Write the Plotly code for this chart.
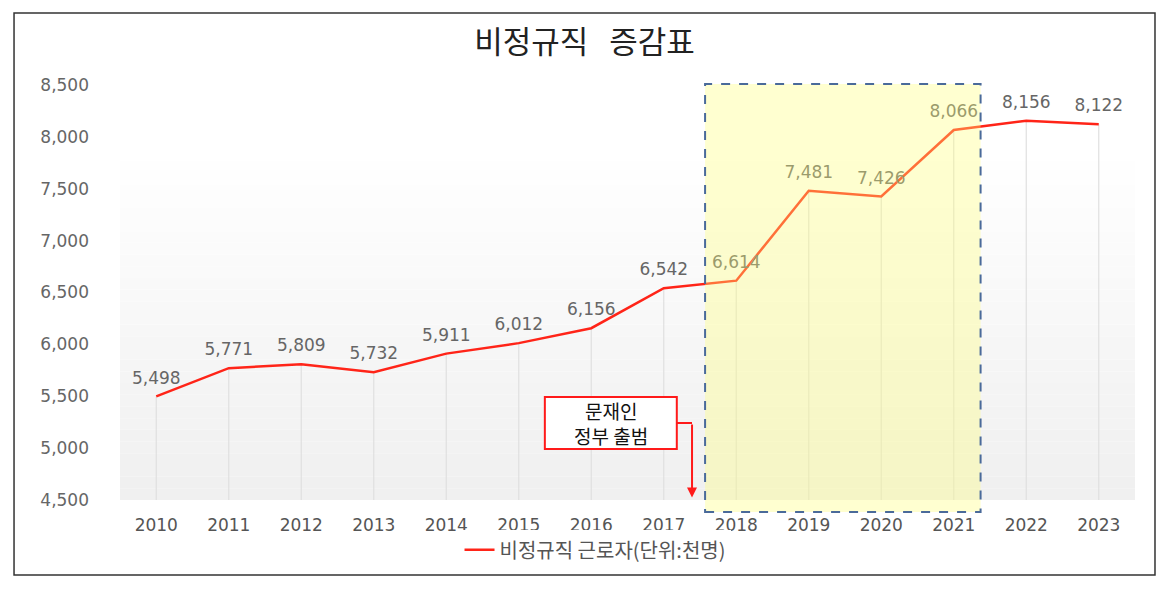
import plotly.graph_objects as go

# data
years = ['2010', '2011', '2012', '2013', '2014', '2015', '2016',
         '2017', '2018', '2019', '2020', '2021', '2022', '2023']
workers = [5498, 5771, 5809, 5732, 5911, 6012, 6156,
           6542, 6614, 7481, 7426, 8066, 8156, 8122]
labels = [f'{v:,}' for v in workers]
y_min, y_max = 4500, 8500

KR = 'Noto Sans CJK KR'
NUM = 'DejaVu Sans'

fig = go.Figure()

# drop lines from each point to the bottom
fig.add_trace(go.Scatter(
    x=years, y=workers, mode='markers',
    marker=dict(size=1, color='rgba(0,0,0,0)'),
    error_y=dict(type='data', symmetric=False,
                 array=[0] * len(workers),
                 arrayminus=[v - y_min for v in workers],
                 color='#e0e0e0', thickness=1.2, width=0),
    showlegend=False, hoverinfo='skip',
))

fig.add_trace(go.Scatter(
    x=years, y=workers, mode='lines+markers+text',
    text=labels, textposition='top center',
    textfont=dict(family=NUM, size=17, color='#666666'),
    marker=dict(size=12, color='rgba(0,0,0,0)'),
    line=dict(color='#ff2418', width=2.5),
    name='비정규직 근로자(단위:천명)',
    cliponaxis=False,
))

# soft grey gradient behind the plot (white at top -> light grey at bottom)
n = 30
for i in range(n):
    g = int(round(239 + 16 * (i + 1) / n))
    fig.add_shape(type='rect', xref='paper', yref='paper',
                  x0=0, x1=1, y0=0.845 * i / n, y1=0.845 * (i + 1) / n,
                  fillcolor=f'rgb({g},{g},{g})', line_width=0, layer='below')

# outer frame
fig.add_shape(type='rect', xref='paper', yref='paper',
              x0=-0.1044, x1=1.0197, y0=-0.1807, y1=1.1735,
              line=dict(color='#333333', width=1.5))

# highlighted period
fig.add_shape(type='rect', xref='x', yref='paper',
              x0=7.57, x1=11.37, y0=-0.029, y1=1.0024,
              fillcolor='rgba(255,255,120,0.35)',
              line=dict(color='#4a6a9a', width=2, dash='dash'),
              layer='above')

# callout box + arrow
fig.add_shape(type='rect', xref='x', yref='y',
              x0=5.36, x1=7.18, y0=4992, y1=5493,
              fillcolor='white', line=dict(color='#ff1a1a', width=2),
              layer='above')
for txt, ty in [('문재인', 5362), ('정부 출범', 5118)]:
    fig.add_annotation(x=6.27, y=ty, xref='x', yref='y', text=txt,
                       showarrow=False,
                       font=dict(family=KR, size=19, color='#111111'))
fig.add_shape(type='line', xref='x', yref='y',
              x0=7.18, x1=7.39, y0=5242, y1=5242,
              line=dict(color='#ff1a1a', width=2))
fig.add_annotation(x=7.39, y=4525, xref='x', yref='y',
                   ax=7.39, ay=5242, axref='x', ayref='y',
                   text='', showarrow=True, arrowhead=2, arrowsize=1,
                   arrowwidth=2, arrowcolor='#ff1a1a')

W, H = 1153, 574
fig.update_layout(
    width=W, height=H,
    margin=dict(l=112, r=26, t=77, b=82),
    paper_bgcolor='white', plot_bgcolor='white',
    title=dict(text='비정규직\u00a0\u00a0\u00a0증감표', x=0.5, xanchor='center',
               y=1 - 34 / H, yanchor='middle',
               font=dict(family=KR, size=31, color='#222222')),
    showlegend=True,
    legend=dict(orientation='h', x=0.468, xanchor='center', y=-0.12,
                yanchor='middle', font=dict(family=KR, size=20, color='#555555')),
    xaxis=dict(type='category', range=[-0.5, 13.5], showgrid=False,
               zeroline=False, ticks='', ticklabelstandoff=13,
               tickfont=dict(family=NUM, size=17, color='#555555')),
    yaxis=dict(range=[y_min, y_max], dtick=500, tickformat=',', showgrid=False,
               zeroline=False, ticks='', ticklabelstandoff=30,
               tickfont=dict(family=NUM, size=17, color='#666666')),
)

fig.write_html('out.html')
